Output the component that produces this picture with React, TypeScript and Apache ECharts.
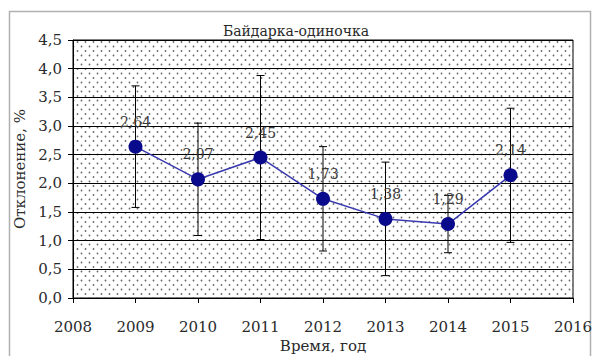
import React, { useEffect, useRef } from "react";
import * as echarts from "echarts";

// Mean deviation per year and the half-width of its error bar
const years = [2009, 2010, 2011, 2012, 2013, 2014, 2015];
const deviation = [2.64, 2.07, 2.45, 1.73, 1.38, 1.29, 2.14];
const spread = [1.06, 0.98, 1.43, 0.91, 0.99, 0.5, 1.17];

const titleText = "Байдарка-одиночка";
const yAxisTitle = "Отклонение, %";
const xAxisTitle = "Время, год";

const FONT = "DejaVu Serif";

const comma = (v: number, d: number) => v.toFixed(d).replace(".", ",");

// Small tile of staggered grey dots used to fill the plot area
function makeDotTile(): HTMLCanvasElement {
  const c = document.createElement("canvas");
  c.width = 8;
  c.height = 9;
  const ctx = c.getContext("2d")!;
  ctx.fillStyle = "#ffffff";
  ctx.fillRect(0, 0, 8, 9);
  ctx.fillStyle = "#6a6a6a";
  ctx.beginPath();
  ctx.arc(1.5, 1.5, 0.9, 0, Math.PI * 2);
  ctx.arc(5.5, 6, 0.9, 0, Math.PI * 2);
  ctx.fill();
  return c;
}

export default function App() {
  const ref = useRef<HTMLDivElement>(null);

  useEffect(() => {
    if (!ref.current) return;
    const chart = echarts.init(ref.current, undefined, { renderer: "svg" });

    const points = years.map((y, i) => [y, deviation[i]]);
    const bars = years.map((y, i) => [y, deviation[i] - spread[i], deviation[i] + spread[i]]);

    chart.setOption({
      animation: false,
      backgroundColor: "#ffffff",
      textStyle: { fontFamily: FONT },
      title: {
        text: titleText,
        left: "center",
        top: 19,
        textStyle: { fontFamily: FONT, fontSize: 14, fontWeight: "normal", color: "#2a2a2a" },
      },
      graphic: [
        {
          type: "rect",
          shape: { x: 9.5, y: 11.5, width: 581, height: 400 },
          style: { fill: "none", stroke: "#b0b0b0", lineWidth: 1.5 },
          silent: true,
        },
      ],
      grid: {
        left: 73,
        top: 40,
        right: 19,
        bottom: 58,
        outerBoundsMode: "none",
        containLabel: false,
        show: true,
        borderColor: "#000",
        borderWidth: 1,
        backgroundColor: {
          image: makeDotTile(),
          repeat: "repeat",
          imageWidth: 8,
          imageHeight: 9,
        },
      },
      xAxis: {
        type: "value",
        min: 2008,
        max: 2016,
        interval: 1,
        name: xAxisTitle,
        nameLocation: "middle",
        nameGap: 40,
        nameTextStyle: { fontFamily: FONT, fontSize: 15, color: "#2a2a2a" },
        axisLine: { lineStyle: { color: "#000", width: 1 } },
        axisTick: { show: true, length: 5, lineStyle: { color: "#000" } },
        axisLabel: {
          fontFamily: FONT,
          fontSize: 15,
          color: "#2a2a2a",
          margin: 21,
          formatter: (v: number) => String(v),
        },
        splitLine: { show: false },
      },
      yAxis: {
        type: "value",
        min: 0,
        max: 4.5,
        interval: 0.5,
        name: yAxisTitle,
        nameLocation: "middle",
        nameRotate: 90,
        nameGap: 41,
        nameTextStyle: { fontFamily: FONT, fontSize: 15, color: "#2a2a2a" },
        axisLine: { show: true, lineStyle: { color: "#000", width: 1 } },
        axisTick: { show: true, length: 5, lineStyle: { color: "#000" } },
        axisLabel: {
          fontFamily: FONT,
          fontSize: 15,
          color: "#2a2a2a",
          margin: 11,
          formatter: (v: number) => comma(v, 1),
        },
        splitLine: { show: true, lineStyle: { color: "#000", width: 1 } },
      },
      series: [
        {
          type: "custom",
          z: 2,
          data: bars,
          renderItem: (params: any, api: any) => {
            const x = api.value(0);
            const lo = api.coord([x, api.value(1)]);
            const hi = api.coord([x, api.value(2)]);
            const cap = 4;
            const style = { stroke: "#000", lineWidth: 1 };
            return {
              type: "group",
              children: [
                { type: "line", shape: { x1: lo[0], y1: lo[1], x2: hi[0], y2: hi[1] }, style },
                { type: "line", shape: { x1: lo[0] - cap, y1: lo[1], x2: lo[0] + cap, y2: lo[1] }, style },
                { type: "line", shape: { x1: hi[0] - cap, y1: hi[1], x2: hi[0] + cap, y2: hi[1] }, style },
              ],
            };
          },
        },
        {
          type: "line",
          z: 3,
          data: points,
          symbol: "circle",
          symbolSize: 14,
          lineStyle: { color: "#3a3ab0", width: 1.5 },
          itemStyle: { color: "#0a0a8c" },
          label: {
            show: true,
            position: "top",
            distance: 11,
            fontFamily: FONT,
            fontSize: 14,
            color: "#3a3a3a",
            formatter: (p: any) => comma(p.value[1], 2),
          },
        },
      ],
    });

    return () => chart.dispose();
  }, []);

  return (
    <div
      ref={ref}
      style={{ position: "fixed", left: 0, top: 0, width: 592, height: 356 }}
    />
  );
}
